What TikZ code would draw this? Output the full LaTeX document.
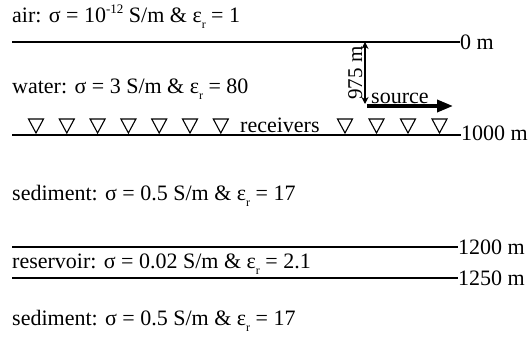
\documentclass[tikz,border=0pt]{standalone}
\usepackage{fontspec}
\setmainfont{Liberation Serif}
\usetikzlibrary{arrows.meta}
\newcommand{\epsr}{ε\raisebox{-0.6ex}{\fontsize{12}{12}\selectfont r}}
\newcommand{\supm}[1]{\raisebox{0.85ex}{\fontsize{13}{13}\selectfont #1}}
\tikzset{
  bigfont/.style={font=\fontsize{22}{24}\selectfont},
  layertext/.style={anchor=base west, inner sep=0pt, bigfont},
  depthlabel/.style={anchor=west, inner sep=0pt, bigfont},
  boundary/.style={line width=1.4pt},
  rcv/.style={draw, line width=1.1pt},
  dimarrow/.style={line width=1.8pt, {Stealth[length=7pt,width=7pt]}-{Stealth[length=7pt,width=7pt]}},
  srcarrow/.style={line width=3.6pt, -{Triangle[length=16pt,width=12pt]}}
}
\begin{document}
\begin{tikzpicture}[x=1pt,y=-1pt]
\useasboundingbox (0,0) rectangle (531,340);
% boundaries
\coordinate (b0l) at (12,42);   \coordinate (b0r) at (460,42);
\coordinate (b1l) at (12,135);  \coordinate (b1r) at (461,135);
\coordinate (b2l) at (12,247);  \coordinate (b2r) at (458,247);
\coordinate (b3l) at (12,278);  \coordinate (b3r) at (458,278);
\draw[boundary] (b0l) -- (b0r);
\draw[boundary] (b1l) -- (b1r);
\draw[boundary] (b2l) -- (b2r);
\draw[boundary] (b3l) -- (b3r);
\node[depthlabel] (l0) at (b0r) {0 m};
\node[depthlabel] (l1) at ([yshift=2pt]b1r) {1000 m};
\node[depthlabel] (l2) at (b2r) {1200 m};
\node[depthlabel] (l3) at (b3r) {1250 m};
% layer texts
\node[layertext] (air) at (12,22) {air: σ = 10\supm{-12} S/m \& \epsr{} = 1};
\node[layertext] (water) at (12,93) {water: σ = 3 S/m \& \epsr{} = 80};
\node[layertext] (sed1) at (12,200) {sediment: σ = 0.5 S/m \& \epsr{} = 17};
\node[layertext] (res) at (12,268) {reservoir: σ = 0.02 S/m \& \epsr{} = 2.1};
\node[layertext] (sed2) at (12,325) {sediment: σ = 0.5 S/m \& \epsr{} = 17};
% receivers
\foreach \x in {36,66.8,97.6,128.4,159.2,190,220.8,345,376.5,408,439.5}{
  \draw[rcv] (\x-7.5,119) -- (\x+7.5,119) -- (\x,133) -- cycle;
}
\node[layertext] (rcvtext) at (240,132) {receivers};
% depth arrow
\coordinate (dtop) at (365,42);
\coordinate (dbot) at (365,104);
\draw[dimarrow] (dtop) -- (dbot);
\node[rotate=90, anchor=south, inner sep=1pt, font=\fontsize{21}{22}\selectfont] (dlab) at (363.5,73) {975 m};
% source
\coordinate (s0) at (367,106);
\coordinate (s1) at (453,106);
\draw[srcarrow] (s0) -- (s1);
\node[anchor=base west, inner sep=0pt, bigfont] (srclab) at (371,103) {source};
\end{tikzpicture}
\end{document}
